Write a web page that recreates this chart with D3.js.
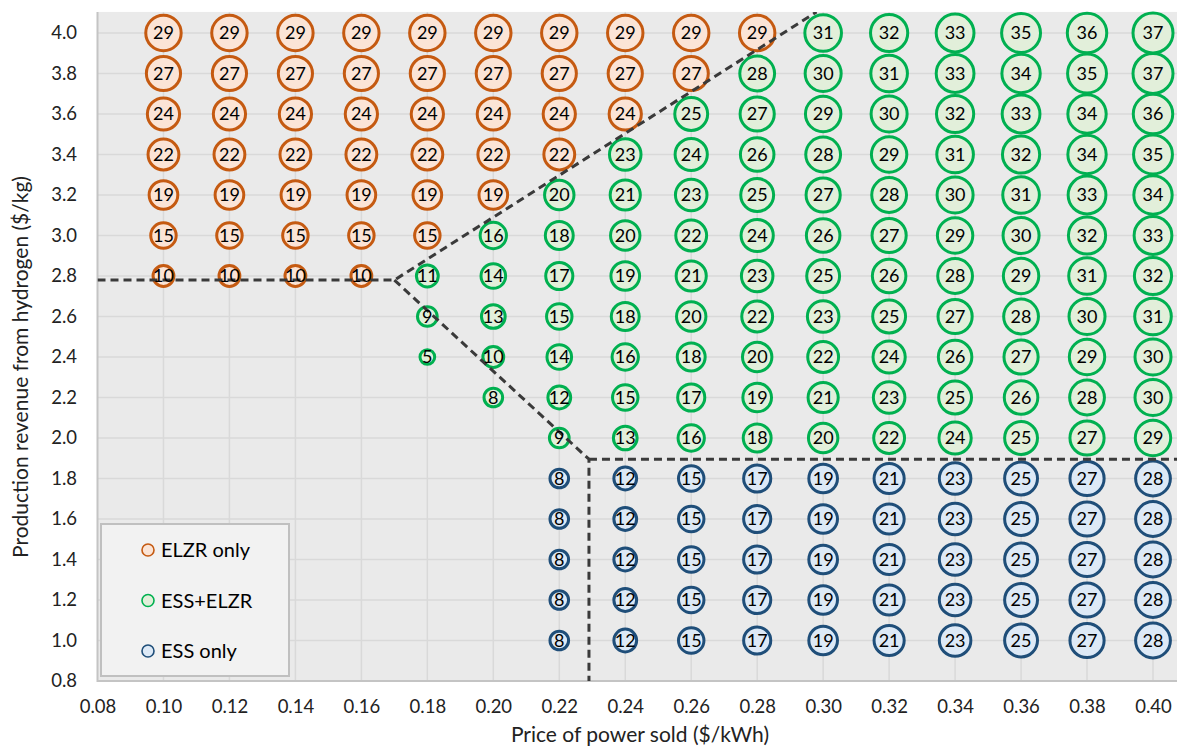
<!DOCTYPE html>
<html>
<head>
<meta charset="utf-8">
<script src="https://cdn.jsdelivr.net/npm/d3@7"></script>
<style>
	html, body { margin: 0; padding: 0; background: #fff; }
	svg { display: block; font-family: Lato, 'Open Sans', sans-serif; }
</style>
</head>
<body>
<svg id="chart"></svg>
<script>
// price of power sold ($/kWh), one entry per bubble column
const prices = [0.10, 0.12, 0.14, 0.16, 0.18, 0.20, 0.22, 0.24, 0.26, 0.28, 0.30, 0.32, 0.34, 0.36, 0.38, 0.40];
const _ = null;

// ELZR only
const elzrRevenue = [4.0, 3.8, 3.6, 3.4, 3.2, 3.0, 2.8];
const elzrValues = [
	[29, 29, 29, 29, 29, 29, 29, 29, 29, 29, _, _, _, _, _, _],
	[27, 27, 27, 27, 27, 27, 27, 27, 27, _, _, _, _, _, _, _],
	[24, 24, 24, 24, 24, 24, 24, 24, _, _, _, _, _, _, _, _],
	[22, 22, 22, 22, 22, 22, 22, _, _, _, _, _, _, _, _, _],
	[19, 19, 19, 19, 19, 19, _, _, _, _, _, _, _, _, _, _],
	[15, 15, 15, 15, 15, _, _, _, _, _, _, _, _, _, _, _],
	[10, 10, 10, 10, _, _, _, _, _, _, _, _, _, _, _, _],
];

// ESS+ELZR
const bothRevenue = [4.0, 3.8, 3.6, 3.4, 3.2, 3.0, 2.8, 2.6, 2.4, 2.2, 2.0];
const bothValues = [
	[_, _, _, _, _, _, _, _, _, _, 31, 32, 33, 35, 36, 37],
	[_, _, _, _, _, _, _, _, _, 28, 30, 31, 33, 34, 35, 37],
	[_, _, _, _, _, _, _, _, 25, 27, 29, 30, 32, 33, 34, 36],
	[_, _, _, _, _, _, _, 23, 24, 26, 28, 29, 31, 32, 34, 35],
	[_, _, _, _, _, _, 20, 21, 23, 25, 27, 28, 30, 31, 33, 34],
	[_, _, _, _, _, 16, 18, 20, 22, 24, 26, 27, 29, 30, 32, 33],
	[_, _, _, _, 11, 14, 17, 19, 21, 23, 25, 26, 28, 29, 31, 32],
	[_, _, _, _, 9, 13, 15, 18, 20, 22, 23, 25, 27, 28, 30, 31],
	[_, _, _, _, 5, 10, 14, 16, 18, 20, 22, 24, 26, 27, 29, 30],
	[_, _, _, _, _, 8, 12, 15, 17, 19, 21, 23, 25, 26, 28, 30],
	[_, _, _, _, _, _, 9, 13, 16, 18, 20, 22, 24, 25, 27, 29],
];

// ESS only
const essRevenue = [1.8, 1.6, 1.4, 1.2, 1.0];
const essValues = [
	[_, _, _, _, _, _, 8, 12, 15, 17, 19, 21, 23, 25, 27, 28],
	[_, _, _, _, _, _, 8, 12, 15, 17, 19, 21, 23, 25, 27, 28],
	[_, _, _, _, _, _, 8, 12, 15, 17, 19, 21, 23, 25, 27, 28],
	[_, _, _, _, _, _, 8, 12, 15, 17, 19, 21, 23, 25, 27, 28],
	[_, _, _, _, _, _, 8, 12, 15, 17, 19, 21, 23, 25, 27, 28],
];

// dashed region boundaries, [price, revenue]
const elzrBoundary = [[0.08, 2.78], [0.17, 2.78], [0.298, 4.104]];
const essBoundary = [[0.17, 2.78], [0.229, 1.895], [0.229, 0.8]];
const essTopBoundary = [[0.229, 1.895], [0.41, 1.895]];

const xTicks = [0.08, 0.10, 0.12, 0.14, 0.16, 0.18, 0.20, 0.22, 0.24, 0.26, 0.28, 0.30, 0.32, 0.34, 0.36, 0.38, 0.40];
const yTicks = [0.8, 1.0, 1.2, 1.4, 1.6, 1.8, 2.0, 2.2, 2.4, 2.6, 2.8, 3.0, 3.2, 3.4, 3.6, 3.8, 4.0];

const seriesNames = ['ELZR only', 'ESS+ELZR', 'ESS only'];
const strokeColors = ['#c55a11', '#00b050', '#1f4e79'];
const fillColors = ['#fbe4d6', '#e2efda', '#dde9f6'];

const width = 1177;
const height = 748;

const svg = d3.select('#chart')
	.attr('width', width)
	.attr('height', height);

const x = d3.scaleLinear().domain([0.08, 0.40]).range([97.5, 1153]);
const y = d3.scaleLinear().domain([0.8, 4.0]).range([681, 33]);
const r = d3.scaleSqrt().domain([0, 37]).range([0, 20]);

const plotLeft = x(0.08);
const plotRight = width;
const plotTop = y(4.104);
const plotBottom = y(0.8);

// flatten the value grids into points
function toPoints (revenues, values, s) {
	const pts = [];
	revenues.forEach((rev, i) => {
		values[i].forEach((v, j) => {
			if (v !== null) pts.push({ price: prices[j], revenue: rev, value: v, s });
		});
	});
	return pts;
}
const points = [
	...toPoints(elzrRevenue, elzrValues, 0),
	...toPoints(bothRevenue, bothValues, 1),
	...toPoints(essRevenue, essValues, 2),
];

svg.append('defs').append('clipPath')
	.attr('id', 'plot-clip')
	.append('rect')
	.attr('x', plotLeft)
	.attr('y', plotTop)
	.attr('width', plotRight - plotLeft)
	.attr('height', plotBottom - plotTop);

// plot background + grid
svg.append('rect')
	.attr('x', plotLeft)
	.attr('y', plotTop)
	.attr('width', plotRight - plotLeft)
	.attr('height', plotBottom - plotTop)
	.attr('fill', '#eaeaea');

const grid = svg.append('g').attr('stroke', '#d9d9d9').attr('stroke-width', 1.5);
grid.selectAll('.vgrid')
	.data(xTicks.slice(1))
	.enter().append('line')
	.attr('x1', d => x(d)).attr('x2', d => x(d))
	.attr('y1', plotTop).attr('y2', plotBottom);
grid.selectAll('.hgrid')
	.data(yTicks.slice(1))
	.enter().append('line')
	.attr('x1', plotLeft).attr('x2', plotRight)
	.attr('y1', d => y(d)).attr('y2', d => y(d));

// axis lines
svg.append('path')
	.attr('d', `M${plotLeft},${plotTop}V${plotBottom}H${plotRight}`)
	.attr('fill', 'none')
	.attr('stroke', '#c4c4c4')
	.attr('stroke-width', 2);

// bubbles
svg.append('g')
	.selectAll('circle')
	.data(points)
	.enter().append('circle')
	.attr('cx', d => x(d.price))
	.attr('cy', d => y(d.revenue))
	.attr('r', d => r(d.value))
	.attr('fill', d => fillColors[d.s])
	.attr('stroke', d => strokeColors[d.s])
	.attr('stroke-width', 3);

// region boundaries
const lineGen = d3.line().x(d => x(d[0])).y(d => y(d[1]));
svg.append('g')
	.attr('clip-path', 'url(#plot-clip)')
	.selectAll('path')
	.data([elzrBoundary, essBoundary, essTopBoundary])
	.enter().append('path')
	.attr('d', lineGen)
	.attr('fill', 'none')
	.attr('stroke', '#3a3a3a')
	.attr('stroke-width', 3)
	.attr('stroke-dasharray', '8,5');

// bubble labels
svg.append('g')
	.selectAll('text')
	.data(points)
	.enter().append('text')
	.attr('x', d => x(d.price))
	.attr('y', d => y(d.revenue))
	.attr('dy', '0.36em')
	.attr('text-anchor', 'middle')
	.attr('font-size', 18)
	.attr('fill', '#000')
	.text(d => d.value);

// tick labels
const xAxis = svg.append('g')
	.attr('transform', `translate(0,${plotBottom})`)
	.call(d3.axisBottom(x).tickValues(xTicks).tickFormat(d3.format('.2f')).tickSize(0).tickPadding(19));
const yAxis = svg.append('g')
	.attr('transform', `translate(${plotLeft},0)`)
	.call(d3.axisLeft(y).tickValues(yTicks).tickFormat(d3.format('.1f')).tickSize(0).tickPadding(20.5));
[xAxis, yAxis].forEach(a => {
	a.select('.domain').remove();
	a.selectAll('text')
		.attr('font-family', 'Lato, sans-serif')
		.attr('font-size', 18.5)
		.attr('fill', '#222');
});

// axis titles
svg.append('text')
	.attr('x', 640)
	.attr('y', 742)
	.attr('text-anchor', 'middle')
	.attr('font-size', 21)
	.attr('fill', '#222')
	.text('Price of power sold ($/kWh)');

svg.append('text')
	.attr('transform', 'translate(28,367) rotate(-90)')
	.attr('text-anchor', 'middle')
	.attr('font-size', 21)
	.attr('fill', '#222')
	.text('Production revenue from hydrogen ($/kg)');

// legend
const legend = svg.append('g');
legend.append('rect')
	.attr('x', 101)
	.attr('y', 524)
	.attr('width', 188)
	.attr('height', 152)
	.attr('fill', '#f2f2f2')
	.attr('stroke', '#c0c0c0')
	.attr('stroke-width', 2);

const legendItems = legend.selectAll('.item')
	.data(seriesNames)
	.enter().append('g')
	.attr('transform', (_, i) => `translate(148,${550 + i * 50.5})`);
legendItems.append('circle')
	.attr('r', 6)
	.attr('fill', (_, i) => fillColors[i])
	.attr('stroke', (_, i) => strokeColors[i])
	.attr('stroke-width', 1.6);
legendItems.append('text')
	.attr('x', 13)
	.attr('dy', '0.36em')
	.attr('font-size', 20)
	.attr('fill', '#000')
	.text(d => d);
</script>
</body>
</html>
